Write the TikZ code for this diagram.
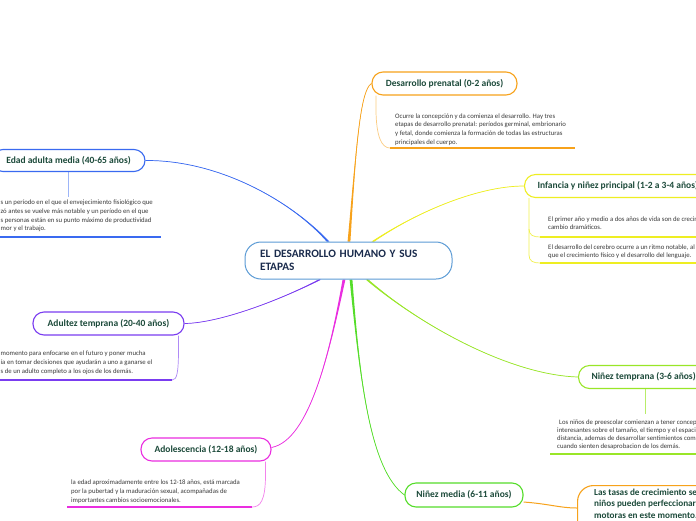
\documentclass[tikz,border=0pt]{standalone}
\usepackage{fontspec}
\setmainfont{Carlito}
\usetikzlibrary{calc,backgrounds}
\definecolor{corange}{HTML}{F7A21B}
\definecolor{cyellow}{HTML}{EEEE22}
\definecolor{clime}{HTML}{99E628}
\definecolor{cgreen}{HTML}{55DD2A}
\definecolor{cmag}{HTML}{EA2EE0}
\definecolor{cpurple}{HTML}{7A3CF0}
\definecolor{cblue}{HTML}{3A6AF0}
\definecolor{ccentral}{HTML}{5B9BD5}
\definecolor{ctitle}{HTML}{1C4A3A}
\definecolor{cctext}{HTML}{1A2B4C}
\definecolor{cbody}{HTML}{3A3A3A}
\newcommand\fl{\rule{0pt}{6pt}}
\newcommand\taper[5]{%
  \fill[#1] ($#2+(-1.4,0)$) .. controls #3 and #4 .. #5 .. controls #4 and #3 .. ($#2+(1.4,0)$) -- cycle;
  \draw[#1,line width=0.7pt] #2 .. controls #3 and #4 .. #5;}
\begin{document}
\begin{tikzpicture}[x=1pt,y=-1pt,
  topic/.style={draw, rounded corners=11pt, line width=1.1pt, fill=white,
    font=\bfseries\fontsize{9.5}{11}\selectfont, text=ctitle,
    inner xsep=0pt, inner ysep=0pt, minimum height=23pt},
  body/.style={font=\fontsize{6.75}{8.7}\selectfont, text=cbody, align=left,
    inner sep=0pt, anchor=north west},
  subl/.style={line width=0.7pt},
  uline/.style={line width=1.8pt}]
\useasboundingbox (0,0) rectangle (696,520);
\clip (0,0) rectangle (696,520);

% central
\node[draw=ccentral, line width=1pt, rounded corners=16pt, fill=white,
  minimum width=207pt, minimum height=37pt, text width=177pt, align=left,
  inner xsep=15pt, font=\bfseries\fontsize{11.3}{13}\selectfont, text=cctext]
  (c) at (348.5,260.5) {EL DESARROLLO HUMANO Y SUS\\ETAPAS};

% topics
\node[topic, draw=corange, minimum width=145pt] (p) at (444.5,83.5) {Desarrollo prenatal (0-2 años)};
\node[topic, draw=cyellow, anchor=west, inner xsep=13pt] (inf) at (524,186) {Infancia y niñez principal (1-2 a 3-4 años)};
\node[topic, draw=clime, anchor=west, inner xsep=13pt] (nt) at (578,377) {Niñez temprana (3-6 años)};
\node[topic, draw=cgreen, minimum width=118pt, minimum height=24pt] (nm) at (464,495) {Niñez media (6-11 años)};
\node[topic, draw=cmag, minimum width=130pt] (ad) at (206,449.5) {Adolescencia (12-18 años)};
\node[topic, draw=cpurple, minimum width=151pt] (at) at (108.5,323.5) {Adultez temprana (20-40 años)};
\node[topic, draw=cblue, minimum width=153pt, minimum height=22pt] (em) at (68.5,160.5) {Edad adulta media (40-65 años)};

% orange box
\node[draw=corange, line width=1.1pt, rounded corners=16pt, fill=white,
  anchor=north west, minimum width=180pt, minimum height=80pt] (ob) at (577,485) {};
\node[anchor=north west, inner sep=0pt, align=left, text=ctitle,
  font=\bfseries\fontsize{9.2}{11.2}\selectfont] (obt) at (594,487)
  {\rule{0pt}{8.5pt}Las tasas de crecimiento se\\niños pueden perfeccionar sus\\motoras en este momento.};

% descriptions
\node[body] (pd) at (395,112) {\fl Ocurre la concepción y da comienza el desarrollo. Hay tres\\etapas de desarrollo prenatal: períodos germinal, embrionario\\y fetal, donde comienza la formación de todas las estructuras\\principales del cuerpo.};
\node[body, font=\fontsize{6.75}{8.6}\selectfont] (inf1) at (548,215) {\fl El primer año y medio a dos años de vida son de crecimiento y\\cambio dramáticos.};
\node[body, font=\fontsize{6.75}{8.6}\selectfont] (inf2) at (548,243) {\fl El desarrollo del cerebro ocurre a un ritmo notable, al igual\\que el crecimiento físico y el desarrollo del lenguaje.};
\node[body, font=\fontsize{6.75}{8}\selectfont] (ntd) at (557,418) {\fl\hspace{2pt}Los niños de preescolar comienzan a tener conceptos\\interesantes sobre el tamaño, el tiempo y el espacio,\\distancia, ademas de desarrollar sentimientos como\\cuando sienten desaprobacion de los demás.};
\node[body] (add) at (71,478.4) {\fl la edad aproximadamente entre los 12-18 años, está marcada\\por la pubertad y la maduración sexual, acompañadas de\\importantes cambios socioemocionales.};
\node[body, font=\fontsize{6.75}{9}\selectfont] (atd) at (0.5,349.5) {\fl momento para enfocarse en el futuro y poner mucha\\ía en tomar decisiones que ayudarán a uno a ganarse el\\s de un adulto completo a los ojos de los demás.};
\node[body] (emd) at (0.5,198.5) {\fl s un período en el que el envejecimiento fisiológico que\\zó antes se vuelve más notable y un período en el que\\s personas están en su punto máximo de productividad\\mor y el trabajo.};

\begin{scope}[on background layer]
\fill[white] (0,0) rectangle (696,520);
\coordinate (s-p) at ([xshift=0.5pt]c.north);
\coordinate (s-inf) at ([xshift=24.5pt]c.north);
\coordinate (s-em) at ([xshift=-20.5pt]c.north);
\coordinate (s-nt) at ([xshift=18.5pt]c.south);
\coordinate (s-nm) at ([xshift=2.5pt]c.south);
\coordinate (s-ad) at ([xshift=-4.5pt]c.south);
\coordinate (s-at) at ([xshift=-28.5pt]c.south);

\taper{corange}{(s-p)}{(356,150)}{(360,90)}{(p.west)}
\taper{cyellow}{(s-inf)}{(420,210)}{(480,186)}{(inf.west)}
\taper{cblue}{(s-em)}{(292,202)}{(220,160)}{(em.east)}
\taper{clime}{(s-nt)}{(420,325)}{(510,375)}{(nt.west)}
\taper{cgreen}{(s-nm)}{(360,380)}{(370,470)}{(nm.west)}
\taper{cmag}{(s-ad)}{(330,350)}{(310,440)}{([yshift=2pt]ad.east)}
\taper{cpurple}{(s-at)}{(280,300)}{(220,323)}{(at.east)}

\draw[corange, line width=1pt] ([yshift=-7pt]nm.east) .. controls (550,504) and (560,508) .. ($(ob.north west)+(0,23)$);

% prenatal sub
\coordinate (pu) at (390,148);
\draw[subl, corange!55] ([xshift=4.5pt]p.south west) -- ++(0,12) .. controls +(0,30) and +(-8,0) .. (pu);
\draw[uline, corange] (pu) -- (575,148);

% infancia sub
\coordinate (iu1) at (540,237);
\coordinate (iu2) at (540,263);
\draw[subl, cyellow!80] ([xshift=5pt]inf.south west) -- (529,229) .. controls (529,235) and (533,237) .. (iu1);
\draw[subl, cyellow!80] (529,229) -- (529,255) .. controls (529,261) and (533,263) .. (iu2);
\draw[uline, cyellow] (iu1) -- (696,237);
\draw[uline, cyellow] (iu2) -- (696,263);

% ninez temprana sub
\draw[subl, clime!70] ([xshift=67pt]nt.south west) -- ($(ntd.north west)+(88,-4)$);
\draw[uline, clime] (550,454) -- (696,454);

% adolescencia sub
\coordinate (au) at (252,507);
\draw[subl, cmag!60] ([xshift=-6pt]ad.south east) -- ++(0,12) .. controls +(0,28) and +(8,0) .. (au);
\draw[uline, cmag] (au) -- (67,507);

% adultez sub
\coordinate (atu) at (172,380);
\draw[subl, cpurple!60] ([xshift=-6pt]at.south east) -- ++(0,10) .. controls +(0,28) and +(5,0) .. (atu);
\draw[uline, cpurple] (atu) -- (0,380);

% edad adulta media sub
\draw[subl, cblue!50] (em.south) -- ++(0,25);
\draw[uline, cblue] (0,237) -- (161,237);
\end{scope}
\end{tikzpicture}
\end{document}
